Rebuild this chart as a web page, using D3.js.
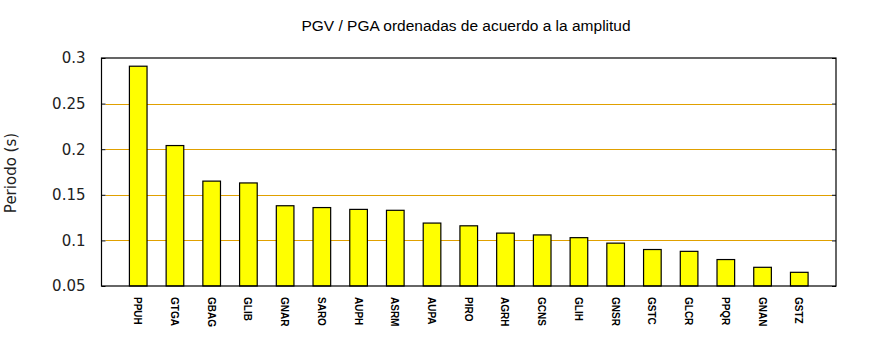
<!DOCTYPE html>
<html><head><meta charset="utf-8">
<script src="https://cdn.jsdelivr.net/npm/d3@7"></script>
<style>body{margin:0;background:#fff}</style>
</head><body>
<svg id="chart" width="870" height="350"></svg>
<script>
const categories = ["PPUH","GTGA","GBAG","GLIB","GNAR","SARO","AUPH","ASRM","AUPA","PIRO","AGRH","GCNS","GLIH","GNSR","GSTC","GLCR","PPQR","GNAN","GSTZ"];
const values = [0.291,0.204,0.165,0.163,0.138,0.136,0.134,0.133,0.119,0.116,0.108,0.106,0.103,0.097,0.090,0.088,0.079,0.0705,0.065];
const yTicks = [0.05,0.1,0.15,0.2,0.25,0.3];
const gridTicks = [0.1,0.15,0.2,0.25];
const title = "PGV / PGA ordenadas de acuerdo a la amplitud";
const yLabel = "Periodo (s)";

const svg = d3.select("#chart");
const L = 101.5, R = 836, T = 58, B = 286;
const x = d3.scaleLinear().domain([-1, categories.length]).range([L, R]);
const y = d3.scaleLinear().domain([0.05, 0.3]).range([B, T]);
const unit = x(1) - x(0);
const bw = unit * 0.48;

// gridlines
svg.append("g").selectAll("line").data(gridTicks).join("line")
  .attr("x1", L + 4).attr("x2", R - 4)
  .attr("y1", d => Math.round(y(d)) + 0.5).attr("y2", d => Math.round(y(d)) + 0.5)
  .attr("stroke", "#e0a000").attr("stroke-width", 1);

// bars
svg.append("g").selectAll("rect").data(values).join("rect")
  .attr("x", (d, i) => x(i) - bw / 2)
  .attr("y", d => y(d))
  .attr("width", bw)
  .attr("height", d => B - y(d))
  .attr("fill", "#ffff00").attr("stroke", "#000").attr("stroke-width", 1.2);

// border
svg.append("rect").attr("x", L).attr("y", T).attr("width", R - L).attr("height", B - T)
  .attr("fill", "none").attr("stroke", "#000").attr("stroke-width", 1.2);

// y axis ticks (left and right, inward)
const yl = svg.append("g").attr("transform", `translate(${L},0)`)
  .call(d3.axisLeft(y).tickValues(yTicks).tickSizeInner(-4).tickSizeOuter(0).tickPadding(16).tickFormat(d3.format("")));
yl.select(".domain").remove();
yl.selectAll("text").attr("font-family", "DejaVu Sans").attr("font-size", 15).attr("fill", "#222");
const yr = svg.append("g").attr("transform", `translate(${R},0)`)
  .call(d3.axisRight(y).tickValues(yTicks).tickSizeInner(-4).tickSizeOuter(0).tickFormat(""));
yr.select(".domain").remove();

// x labels
svg.append("g").selectAll("text").data(categories).join("text")
  .attr("transform", (d, i) => `translate(${x(i) - 4},297) rotate(90)`)
  .attr("font-family", "Liberation Sans, Arial").attr("font-size", 10).attr("font-weight", "bold")
  .attr("fill", "#000")
  .text(d => d);

// title
svg.append("text").attr("x", 466).attr("y", 31).attr("text-anchor", "middle")
  .attr("font-family", "Liberation Sans, Arial").attr("font-size", 15.5).attr("fill", "#000")
  .text(title);

// y label
svg.append("text").attr("transform", "translate(16,173) rotate(-90)").attr("text-anchor", "middle")
  .attr("font-family", "DejaVu Sans").attr("font-size", 15).attr("fill", "#222")
  .text(yLabel);
</script>
</body></html>
